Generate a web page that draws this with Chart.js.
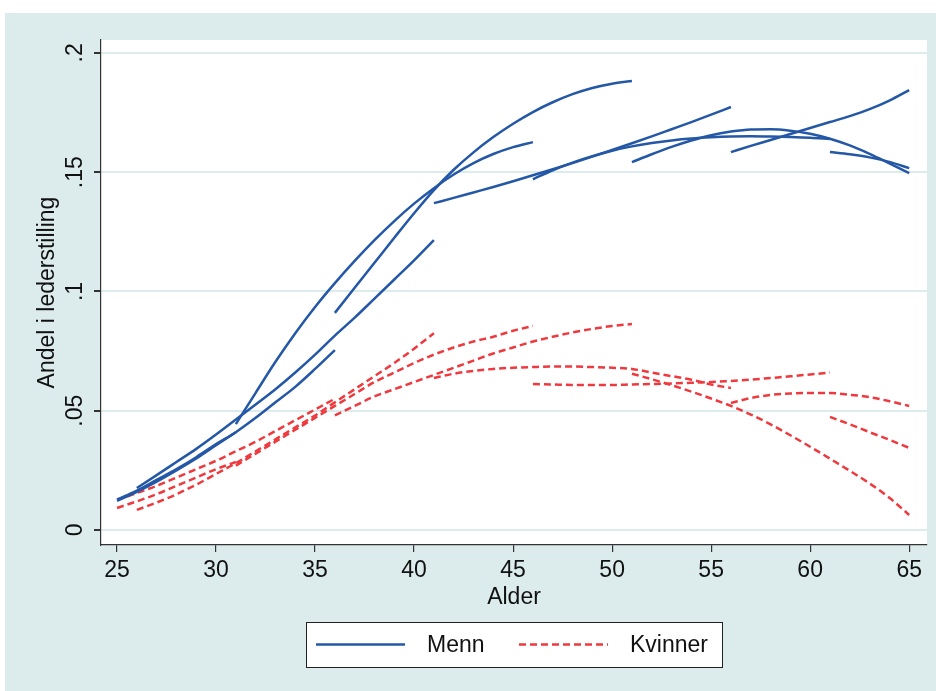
<!DOCTYPE html>
<html>
<head>
<meta charset="utf-8">
<script src="https://cdn.jsdelivr.net/npm/chart.js@4.4.1/dist/chart.umd.min.js"></script>
<style>
  html, body { margin: 0; padding: 0; background: #fff; }
</style>
</head>
<body>
<canvas id="chart" width="936" height="691"></canvas>
<script>
// akser
const xTicks = [25, 30, 35, 40, 45, 50, 55, 60, 65];
const yTicks = [0, 0.05, 0.1, 0.15, 0.2];
const yTickLabels = ['0', '.05', '.1', '.15', '.2'];

// startalder for hver kohortkurve
const cohortStart = [25, 25, 26, 31, 36, 41, 46, 51, 56, 61];

// menn, andel i lederstilling per alder
const menn1 = [0.0122, 0.016, 0.0203, 0.025, 0.030, 0.0355, 0.041];
const menn2 = [0.0128, 0.0165, 0.021, 0.0255, 0.0305, 0.036, 0.041, 0.047, 0.0535, 0.060, 0.0675, 0.0754];
const menn3 = [0.0176, 0.023, 0.0285, 0.034, 0.040, 0.0463, 0.0526, 0.059, 0.066, 0.0735, 0.0815, 0.089, 0.097, 0.105, 0.113, 0.1215];
const menn4 = [0.0444, 0.0575, 0.0705, 0.0825, 0.0935, 0.1035, 0.1128, 0.1215, 0.1295, 0.1368, 0.1433, 0.149, 0.1538, 0.1576, 0.1605, 0.1626];
const menn5 = [0.091, 0.1015, 0.112, 0.1225, 0.1328, 0.1425, 0.151, 0.1583, 0.1647, 0.1703, 0.1752, 0.1793, 0.1827, 0.1853, 0.1871, 0.1882];
const menn6 = [0.137, 0.1392, 0.1415, 0.1438, 0.1462, 0.1487, 0.1512, 0.1538, 0.1565, 0.1593, 0.1621, 0.165, 0.168, 0.171, 0.1741, 0.1773];
const menn7 = [0.147, 0.1508, 0.154, 0.1567, 0.159, 0.1608, 0.1622, 0.1633, 0.1641, 0.1646, 0.1649, 0.165, 0.1649, 0.1647, 0.1644, 0.1639];
const menn8 = [0.1542, 0.1575, 0.1606, 0.1633, 0.1655, 0.167, 0.1679, 0.168, 0.1674, 0.1661, 0.164, 0.1612, 0.1577, 0.1537, 0.1496];
const menn9 = [0.1584, 0.161, 0.1635, 0.166, 0.1685, 0.171, 0.1735, 0.1764, 0.180, 0.1844];
const menn10 = [0.1584, 0.1575, 0.1562, 0.1543, 0.1517];

// kvinner
const kvinner1 = [0.0092, 0.012, 0.015, 0.0185, 0.022, 0.0255, 0.0285];
const kvinner2 = [0.0126, 0.0155, 0.0185, 0.022, 0.0255, 0.029, 0.033, 0.037, 0.0415, 0.046, 0.0505, 0.055];
const kvinner3 = [0.0084, 0.0115, 0.015, 0.019, 0.0235, 0.028, 0.033, 0.038, 0.043, 0.048, 0.0535, 0.059, 0.0645, 0.070, 0.076, 0.0825];
const kvinner4 = [0.027, 0.032, 0.037, 0.042, 0.047, 0.052, 0.057, 0.062, 0.066, 0.070, 0.0735, 0.0765, 0.079, 0.081, 0.0835, 0.0855];
const kvinner5 = [0.048, 0.052, 0.056, 0.059, 0.062, 0.065, 0.068, 0.071, 0.074, 0.0765, 0.079, 0.081, 0.0828, 0.0843, 0.0855, 0.0863];
const kvinner6 = [0.0637, 0.0655, 0.0667, 0.0675, 0.068, 0.0683, 0.0685, 0.0685, 0.0683, 0.068, 0.0675, 0.066, 0.0645, 0.063, 0.061, 0.0595];
const kvinner7 = [0.0612, 0.061, 0.0608, 0.0608, 0.0608, 0.061, 0.0612, 0.0614, 0.0617, 0.062, 0.0625, 0.063, 0.0637, 0.0644, 0.0652, 0.066];
const kvinner8 = [0.0655, 0.0632, 0.0607, 0.058, 0.0551, 0.052, 0.0484, 0.0443, 0.0397, 0.0349, 0.0299, 0.0248, 0.0195, 0.0135, 0.0063];
const kvinner9 = [0.0532, 0.0553, 0.0566, 0.0572, 0.0574, 0.0574, 0.0567, 0.0557, 0.054, 0.052];
const kvinner10 = [0.0474, 0.0443, 0.041, 0.0378, 0.0344];

const menn = [menn1, menn2, menn3, menn4, menn5, menn6, menn7, menn8, menn9, menn10];
const kvinner = [kvinner1, kvinner2, kvinner3, kvinner4, kvinner5, kvinner6, kvinner7, kvinner8, kvinner9, kvinner10];

const blue = '#2458a6';
const red = '#ee3a3f';
const teal = '#dcecec';
const FONT = '"Liberation Sans", Arial, sans-serif';

Chart.defaults.font.family = FONT;
Chart.defaults.color = '#111';

function cohort(label, start, values, color, dash) {
    return {
        label: label,
        data: values.map((v, i) => ({ x: start + i, y: v })),
        borderColor: color,
        backgroundColor: color,
        borderWidth: 2.5,
        borderDash: dash,
        pointRadius: 0,
        fill: false,
        cubicInterpolationMode: 'monotone'
    };
}

const datasets = [];
menn.forEach((vals, i) => datasets.push(cohort('Menn', cohortStart[i], vals, blue, [])));
kvinner.forEach((vals, i) => datasets.push(cohort('Kvinner', cohortStart[i], vals, red, [7, 4])));

// bakgrunn i Stata-stil
const background = {
    id: 'background',
    beforeDraw(chart) {
        const { ctx, chartArea, width, height } = chart;
        ctx.save();
        ctx.fillStyle = '#fff';
        ctx.fillRect(0, 0, width, height);
        ctx.fillStyle = teal;
        ctx.fillRect(5, 13, width - 5, height - 13);
        ctx.fillStyle = '#fff';
        ctx.fillRect(chartArea.left, chartArea.top, chartArea.right - chartArea.left, chartArea.bottom - chartArea.top);
        ctx.restore();
    }
};

// forklaring med ramme
const legendBox = {
    id: 'legendBox',
    afterDraw(chart) {
        const { ctx, chartArea } = chart;
        const cx = (chartArea.left + chartArea.right) / 2;
        const left = Math.round(cx - 208), top = 622, w = 416, h = 45;
        const mid = top + h / 2;
        ctx.save();
        ctx.fillStyle = '#fff';
        ctx.fillRect(left, top, w, h);
        ctx.strokeStyle = '#222';
        ctx.lineWidth = 1;
        ctx.strokeRect(left + 0.5, top + 0.5, w, h);

        const items = [
            { text: 'Menn', ds: datasets[0], x: 10 },
            { text: 'Kvinner', ds: datasets[menn.length], x: 213 }
        ];
        ctx.font = '23px ' + FONT;
        ctx.textBaseline = 'middle';
        ctx.textAlign = 'left';
        items.forEach(it => {
            ctx.beginPath();
            ctx.strokeStyle = it.ds.borderColor;
            ctx.lineWidth = it.ds.borderWidth;
            ctx.setLineDash(it.ds.borderDash);
            ctx.moveTo(left + it.x, mid);
            ctx.lineTo(left + it.x + 89, mid);
            ctx.stroke();
            ctx.setLineDash([]);
            ctx.fillStyle = '#111';
            ctx.fillText(it.text, left + it.x + 111, mid + 1);
        });
        ctx.restore();
    }
};

new Chart(document.getElementById('chart').getContext('2d'), {
    type: 'line',
    data: { datasets: datasets },
    options: {
        responsive: false,
        animation: false,
        layout: { padding: { left: 10, top: 40, right: 9, bottom: 76 } },
        plugins: {
            legend: { display: false },
            tooltip: { enabled: false }
        },
        scales: {
            x: {
                type: 'linear',
                min: 24.19,
                max: 65.9,
                afterBuildTicks: s => { s.ticks = xTicks.map(v => ({ value: v })); },
                afterFit: s => { s.height = 70; },
                ticks: {
                    font: { size: 23 },
                    color: '#111',
                    padding: 5,
                    maxRotation: 0,
                    callback: v => String(v)
                },
                grid: { drawOnChartArea: false, tickLength: 7, tickColor: '#333', lineWidth: 1.2 },
                border: { color: '#333', width: 1.2 },
                title: { display: true, text: 'Alder', font: { size: 23 }, color: '#111', padding: { top: 0, bottom: 4 } }
            },
            y: {
                type: 'linear',
                min: -0.0063,
                max: 0.2054,
                afterBuildTicks: s => { s.ticks = yTicks.map(v => ({ value: v })); },
                afterFit: s => { s.width = 91; },
                ticks: {
                    font: { size: 23 },
                    color: '#111',
                    padding: 2,
                    minRotation: 90,
                    maxRotation: 90,
                    crossAlign: 'center',
                    callback: v => {
                        const i = yTicks.findIndex(t => Math.abs(t - v) < 1e-9);
                        return i >= 0 ? yTickLabels[i] : '';
                    }
                },
                grid: { color: teal, lineWidth: 2, tickLength: 7, tickColor: '#333' },
                border: { color: '#333', width: 1.2 },
                title: { display: true, text: 'Andel i lederstilling', font: { size: 23 }, color: '#111', padding: { top: 24, bottom: 0 } }
            }
        }
    },
    plugins: [background, legendBox]
});
</script>
</body>
</html>
